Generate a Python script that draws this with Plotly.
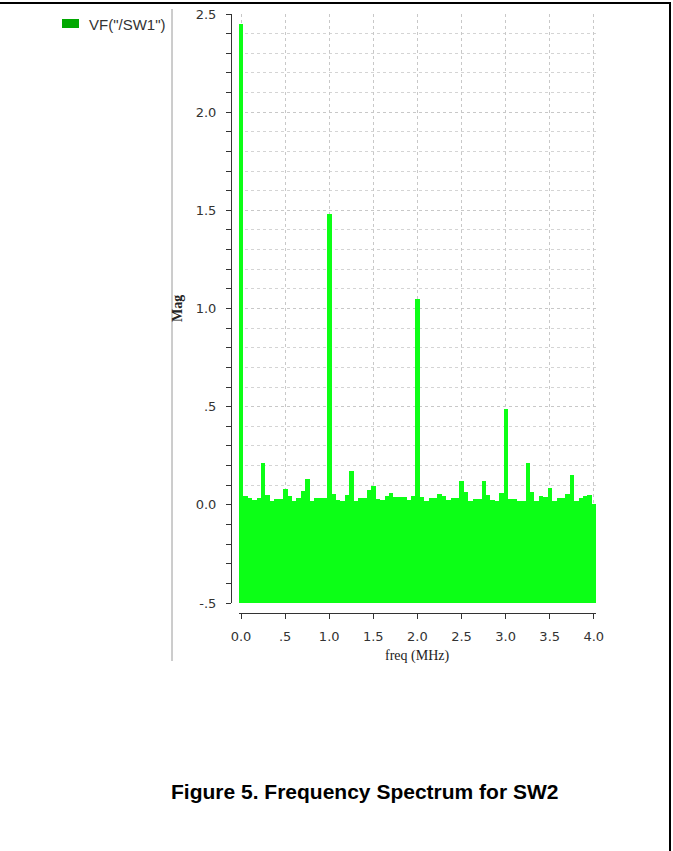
import plotly.graph_objects as go

# ---------------- data ----------------
BIN_STEP_MHZ = 0.05
freq_mhz = [round(i * BIN_STEP_MHZ, 2) for i in range(81)]
magnitude = [
    2.45, 0.044, 0.036, 0.024, 0.034, 0.213, 0.051, 0.022, 0.030, 0.030,
    0.081, 0.044, 0.022, 0.035, 0.073, 0.132, 0.022, 0.034, 0.034, 0.034,
    1.48, 0.057, 0.027, 0.022, 0.048, 0.171, 0.022, 0.034, 0.034, 0.078,
    0.098, 0.030, 0.024, 0.044, 0.062, 0.039, 0.039, 0.039, 0.024, 0.044,
    1.05, 0.039, 0.022, 0.036, 0.036, 0.057, 0.044, 0.027, 0.034, 0.034,
    0.12, 0.067, 0.022, 0.030, 0.030, 0.12, 0.048, 0.027, 0.022, 0.062,
    0.49, 0.030, 0.030, 0.022, 0.022, 0.213, 0.067, 0.022, 0.044, 0.040,
    0.088, 0.022, 0.034, 0.034, 0.057, 0.152, 0.022, 0.034, 0.044, 0.051,
    0.005,
]
BASELINE = -0.5
series_name = 'VF("/SW1")'

y_tickvals = [-0.5, 0.0, 0.5, 1.0, 1.5, 2.0, 2.5]
y_ticktext = ["-.5", "0.0", ".5", "1.0", "1.5", "2.0", "2.5"]
x_tickvals = [0.0, 0.5, 1.0, 1.5, 2.0, 2.5, 3.0, 3.5, 4.0]
x_ticktext = ["0.0", ".5", "1.0", "1.5", "2.0", "2.5", "3.0", "3.5", "4.0"]

x_title = "freq (MHz)"
y_title = "Mag"
caption = "Figure 5. Frequency Spectrum for SW2"

# ---------------- layout helpers ----------------
W, H = 673, 851


def px(x):
    return x / W


def py(y):
    return 1 - y / H


BAR_GREEN = "#0cff16"
LEGEND_GREEN = "#00a800"
TICK_FONT = dict(family="DejaVu Sans", size=13, color="#333333")
SERIF = "Liberation Serif"

fig = go.Figure()
fig.add_trace(
    go.Bar(
        x=freq_mhz,
        y=[v - BASELINE for v in magnitude],
        base=BASELINE,
        width=BIN_STEP_MHZ,
        marker=dict(color=BAR_GREEN, line=dict(width=0)),
        name=series_name,
        showlegend=False,
    )
)

fig.update_layout(
    width=W,
    height=H,
    margin=dict(l=0, r=0, t=0, b=0),
    paper_bgcolor="white",
    plot_bgcolor="white",
    bargap=0,
    showlegend=False,
    xaxis=dict(
        domain=[px(238.8), px(596.0)],
        range=[-0.025, 4.025],
        anchor="free",
        position=py(613),
        tickvals=x_tickvals,
        ticktext=x_ticktext,
        ticks="outside",
        ticklen=5,
        tickcolor="#333333",
        showline=True,
        linecolor="#333333",
        linewidth=1,
        showgrid=True,
        gridcolor="#c8c8c8",
        griddash="dot",
        gridwidth=1,
        zeroline=False,
        tickfont=TICK_FONT,
        ticklabelstandoff=6,
        automargin=False,
    ),
    yaxis=dict(
        domain=[py(603), py(14)],
        range=[-0.5, 2.5],
        anchor="free",
        position=px(231),
        tickvals=y_tickvals,
        ticktext=y_ticktext,
        ticks="outside",
        ticklen=5,
        tickcolor="#333333",
        showline=True,
        linecolor="#333333",
        linewidth=1,
        showgrid=True,
        gridcolor="#c8c8c8",
        griddash="dot",
        gridwidth=1,
        zeroline=False,
        tickfont=TICK_FONT,
        ticklabelstandoff=7,
        automargin=False,
        minor=dict(
            dtick=0.1,
            tick0=0,
            ticks="outside",
            ticklen=5,
            tickcolor="#333333",
            showgrid=True,
            gridcolor="#d4d4d4",
            griddash="dot",
            gridwidth=1,
        ),
    ),
)

shapes = [
    # outer frame lines
    dict(type="line", xref="paper", yref="paper", x0=px(0), x1=px(671), y0=py(3), y1=py(3),
         line=dict(color="black", width=2)),
    dict(type="line", xref="paper", yref="paper", x0=px(670), x1=px(670), y0=py(3), y1=py(851),
         line=dict(color="black", width=2)),
    # separator between legend and plot
    dict(type="line", xref="paper", yref="paper", x0=px(172), x1=px(172), y0=py(9), y1=py(661),
         line=dict(color="#9a9a9a", width=1)),
    # legend swatch
    dict(type="rect", xref="paper", yref="paper", x0=px(62), x1=px(79), y0=py(28), y1=py(19),
         line=dict(width=0), fillcolor=LEGEND_GREEN),
]
fig.update_layout(shapes=shapes)

annotations = [
    dict(text=series_name, xref="paper", yref="paper", x=px(87), y=py(24),
         xanchor="left", yanchor="middle", showarrow=False,
         font=dict(family="Liberation Sans", size=15, color="#333333")),
    dict(text=x_title, xref="paper", yref="paper", x=px(417), y=py(656),
         xanchor="center", yanchor="middle", showarrow=False,
         font=dict(family=SERIF, size=14, color="#222222")),
    dict(text="<b>" + y_title + "</b>", xref="paper", yref="paper", x=px(178), y=py(309),
         xanchor="center", yanchor="middle", showarrow=False, textangle=-90,
         font=dict(family=SERIF, size=14, color="#222222")),
    dict(text="<b>" + caption + "</b>", xref="paper", yref="paper", x=px(364), y=py(791),
         xanchor="center", yanchor="middle", showarrow=False,
         font=dict(family="Liberation Sans", size=21, color="black")),
]
fig.update_layout(annotations=annotations)

fig.write_html(
    "out.html",
    config=dict(displayModeBar=False),
    post_script="document.body.style.margin='0';document.body.style.overflow='hidden';",
)
